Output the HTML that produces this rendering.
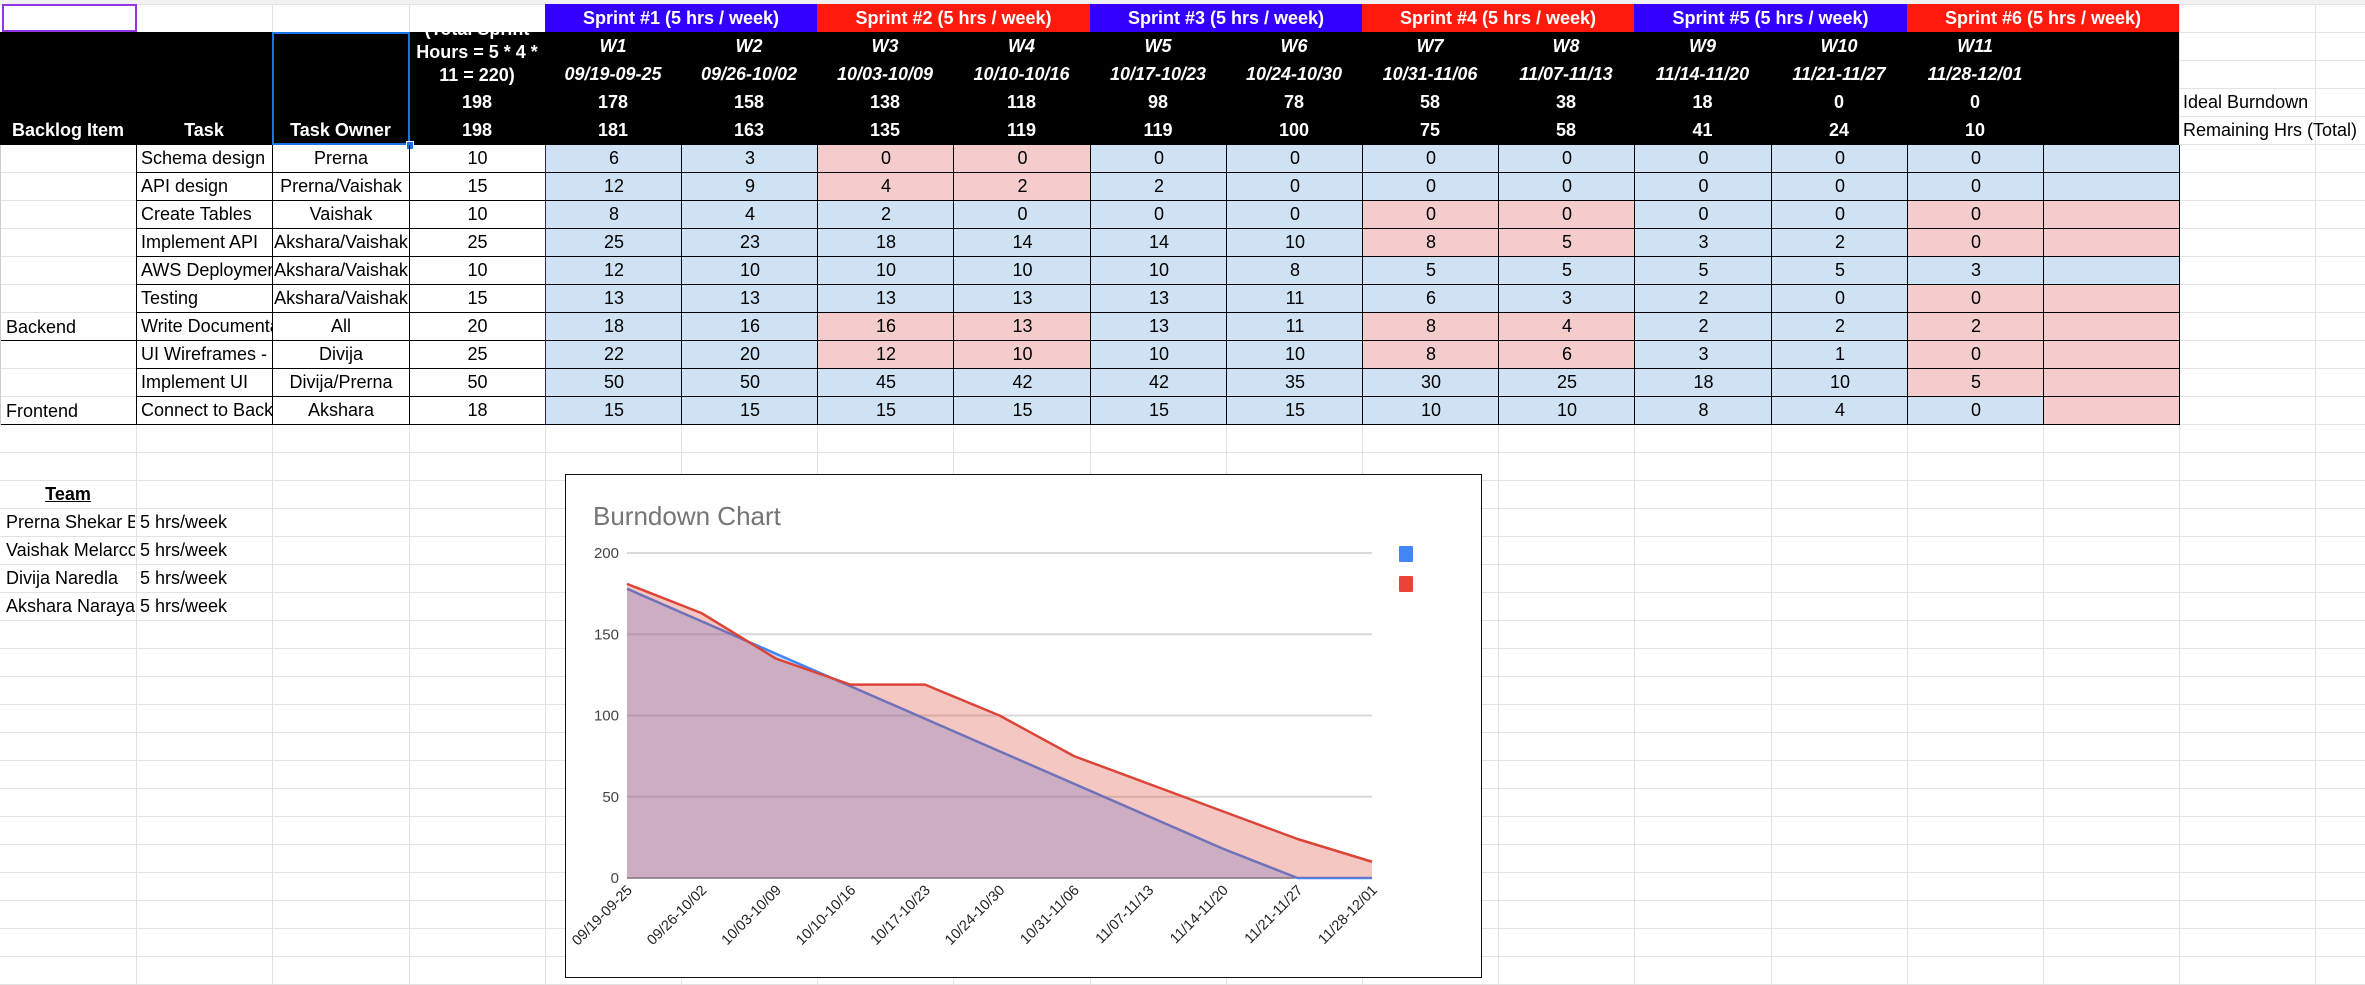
<!DOCTYPE html>
<html><head><meta charset="utf-8">
<style>
body{margin:0;width:2365px;height:984px;position:relative;overflow:hidden;background:#fff;font-family:"Liberation Sans",Arial,sans-serif;}
.a{position:absolute;box-sizing:border-box;}
.c{position:absolute;box-sizing:border-box;font-size:18px;display:flex;align-items:center;overflow:hidden;white-space:nowrap;}
.gl{position:absolute;background:#e2e2e2;}
</style></head><body>
<div id="grid"></div>
<div id="cells"></div>
<div class="a" style="left:565px;top:474px;width:917px;height:504px;border:1px solid #111;background:#fff;">
<svg id="chart" width="915" height="502" style="position:absolute;left:0;top:0;font-family:'Liberation Sans',Arial,sans-serif;"></svg>
</div>
<script>
// chart data
const categories=["09/19-09-25","09/26-10/02","10/03-10/09","10/10-10/16","10/17-10/23","10/24-10/30","10/31-11/06","11/07-11/13","11/14-11/20","11/21-11/27","11/28-12/01"];
const idealValues=[178,158,138,118,98,78,58,38,18,0,0];
const remainingValues=[181,163,135,119,119,100,75,58,41,24,10];
const yTicks=[0,50,100,150,200];
// table data
const weeks=["W1","W2","W3","W4","W5","W6","W7","W8","W9","W10","W11"];
const tasks=["Schema design","API design","Create Tables","Implement API","AWS Deploymen","Testing","Write Documentation","UI Wireframes - ","Implement UI","Connect to Back"];
const owners=["Prerna","Prerna/Vaishak","Vaishak","Akshara/Vaishak","Akshara/Vaishak","Akshara/Vaishak","All","Divija","Divija/Prerna","Akshara"];
const totals=[10,15,10,25,10,15,20,25,50,18];
const hours=[
[6,3,0,0,0,0,0,0,0,0,0],
[12,9,4,2,2,0,0,0,0,0,0],
[8,4,2,0,0,0,0,0,0,0,0],
[25,23,18,14,14,10,8,5,3,2,0],
[12,10,10,10,10,8,5,5,5,5,3],
[13,13,13,13,13,11,6,3,2,0,0],
[18,16,16,13,13,11,8,4,2,2,2],
[22,20,12,10,10,10,8,6,3,1,0],
[50,50,45,42,42,35,30,25,18,10,5],
[15,15,15,15,15,15,10,10,8,4,0]];
const pink=[
[2,3],[2,3],[6,7,10,11],[6,7,10,11],[],[10,11],[2,3,6,7,10,11],[2,3,6,7,10,11],[10,11],[11]];

const colX=i=>Math.round(i*136.2);
const rowY=r=>4+28*r;
const grid=document.getElementById('grid');
for(let i=1;i<18;i++){const d=document.createElement('div');d.className='gl';d.style.cssText=`left:${colX(i)}px;top:0;width:1px;height:984px`;

grid.appendChild(d);}
for(let r=0;r<36;r++){const d=document.createElement('div');d.className='gl';d.style.cssText=`left:0;top:${rowY(r)}px;width:2365px;height:1px`;

grid.appendChild(d);}
const topStrip=document.createElement('div');topStrip.className='a';topStrip.style.cssText='left:0;top:0;width:2365px;height:4px;background:#f1f1f1';

grid.appendChild(topStrip);

const cells=document.getElementById('cells');
function cell(x,y,w,h,txt,st){const d=document.createElement('div');d.className='c';d.style.cssText=`left:${x}px;top:${y}px;width:${w}px;height:${h}px;`+(st||'');d.textContent=txt;cells.appendChild(d);return d;}

let a1=cell(2,4,135,28,'','border:2px solid #9334e6;background:#fff');


for(let s=0;s<6;s++){const x=colX(4+2*s);const d=cell(x,4,colX(6+2*s)-x,28,`Sprint #${s+1} (5 hrs / week)`,`justify-content:center;color:#fff;font-weight:bold;background:${s%2?'#ff1a0d':'#3300ff'}`);

}
const hb=document.createElement('div');hb.className='a';hb.style.cssText=`left:0;top:32px;width:${colX(16)}px;height:113px;background:#000`;

cells.appendChild(hb);
const wb='justify-content:center;color:#fff;font-weight:bold;';
let h;
h=cell(0,116,colX(1),29,'Backlog Item',wb);
h=cell(colX(1),116,colX(2)-colX(1),29,'Task',wb);
h=cell(colX(2),116,colX(3)-colX(2),29,'Task Owner',wb);
const tsh=document.createElement('div');tsh.className='a';tsh.style.cssText=`left:${colX(3)}px;top:32px;width:${colX(4)-colX(3)}px;height:56px;overflow:hidden;color:#fff;font-weight:bold;font-size:18px;text-align:center;line-height:23px;`;
tsh.innerHTML='<div style="margin-top:-14px">(Total Sprint<br>Hours = 5 * 4 *<br>11 = 220)</div>';

cells.appendChild(tsh);
h=cell(colX(3),88,colX(4)-colX(3),28,'198',wb);
h=cell(colX(3),116,colX(4)-colX(3),29,'198',wb);
for(let i=0;i<11;i++){const x=colX(4+i),w=colX(5+i)-x;
h=cell(x,32,w,28,weeks[i],wb+'font-style:italic');
h=cell(x,60,w,28,categories[i],wb+'font-style:italic');
h=cell(x,88,w,28,String(idealValues[i]),wb);
h=cell(x,116,w,29,String(remainingValues[i]),wb);}
const sel=document.createElement('div');sel.className='a';sel.style.cssText=`left:${colX(2)}px;top:32px;width:${colX(3)-colX(2)+1}px;height:113px;border:2px solid #1a73e8`;

cells.appendChild(sel);
const hd=document.createElement('div');hd.className='a';hd.style.cssText=`left:${colX(3)-3}px;top:141px;width:8px;height:9px;background:#1a73e8;border:1px solid #fff`;

cells.appendChild(hd);
h=cell(colX(16)+4,88,200,28,'Ideal Burndown','');
h=cell(colX(16)+4,116,230,29,'Remaining Hrs (Total)','overflow:visible');

for(let r=0;r<10;r++){const y=145+28*r;
h=cell(colX(1),y,colX(2)-colX(1),28,tasks[r],'padding-left:4px;border-bottom:1px solid #000;border-left:1px solid #000');
h=cell(colX(2),y,colX(3)-colX(2),28,owners[r],'justify-content:center;border-bottom:1px solid #000;border-left:1px solid #000');
h=cell(colX(3),y,colX(4)-colX(3),28,String(totals[r]),'justify-content:center;border-bottom:1px solid #000;border-left:1px solid #000');
for(let i=0;i<12;i++){const x=colX(4+i),w=colX(5+i)-x;const bg=pink[r].includes(i)?'#f4cccc':'#cfe2f3';
const d=cell(x,y,w+1,28,i<11?String(hours[r][i]):'',`justify-content:center;background:${bg};border-bottom:1px solid #000;border-left:1px solid ${i==0?'#3300ff':'#000'};`+(i==11?'border-right:1px solid #000;':''));

}}
h=cell(0,313,colX(1),28,'Backend','padding-left:6px;align-items:flex-end;padding-bottom:2px;border-bottom:1px solid #000');
h=cell(0,397,colX(1),28,'Frontend','padding-left:6px;align-items:flex-end;padding-bottom:2px;border-bottom:1px solid #000');
const edge=document.createElement('div');edge.className='a';edge.style.cssText=`left:0;top:145px;width:1px;height:280px;background:#ccc`;

cells.appendChild(edge);
h=cell(0,480,colX(1),28,'Team','justify-content:center;font-weight:bold;text-decoration:underline');
const team=["Prerna Shekar Bhat","Vaishak Melarcode","Divija Naredla","Akshara Narayanan"];
for(let i=0;i<4;i++){
h=cell(0,508+28*i,colX(1)-1,28,team[i],'padding-left:6px');
h=cell(colX(1),508+28*i,colX(2)-colX(1),28,'5 hrs/week','padding-left:4px');}

const svg=document.getElementById('chart');const NS='http://www.w3.org/2000/svg';
const L=61,R=806,Y0=403,Y200=78;
const xs=i=>L+(R-L)*i/(categories.length-1);
const ys=v=>Y0-(Y0-Y200)*v/200;
function el(t,a,p){const e=document.createElementNS(NS,t);for(const k in a)e.setAttribute(k,a[k]);(p||svg).appendChild(e);return e;}
let t=el('text',{x:27,y:50,'font-size':26,fill:'#757575'});t.textContent='Burndown Chart';


yTicks.forEach(v=>{const g=el('line',{x1:L,x2:R,y1:ys(v),y2:ys(v),stroke:v==0?'#333':'#d9d9d9','stroke-width':v==0?1:2});


const tx=el('text',{x:53,y:ys(v)+5,'font-size':15,fill:'#444','text-anchor':'end'});tx.textContent=v;

});
function area(vals,color,name){const pts=vals.map((v,i)=>`${xs(i)},${ys(v)}`).join(' ');
const a=el('polygon',{points:`${xs(0)},${Y0} ${pts} ${xs(vals.length-1)},${Y0}`,fill:color,'fill-opacity':0.3});


const l=el('polyline',{points:pts,fill:'none',stroke:color,'stroke-width':2.5,'stroke-linejoin':'round'});

}
area(idealValues,'#4285f4','ideal-burndown');
area(remainingValues,'#db4437','remaining-hours');
categories.forEach((c,i)=>{const x=xs(i)+6,y=416;const tx=el('text',{x:x,y:y,'font-size':14.5,fill:'#222','text-anchor':'end',transform:`rotate(-45 ${x} ${y})`});tx.textContent=c;

});
let lg=el('rect',{x:833,y:71,width:14,height:16,rx:1,fill:'#4285f4'});


lg=el('rect',{x:833,y:101,width:14,height:16,rx:1,fill:'#ea4335'});


</script>
</body></html>
